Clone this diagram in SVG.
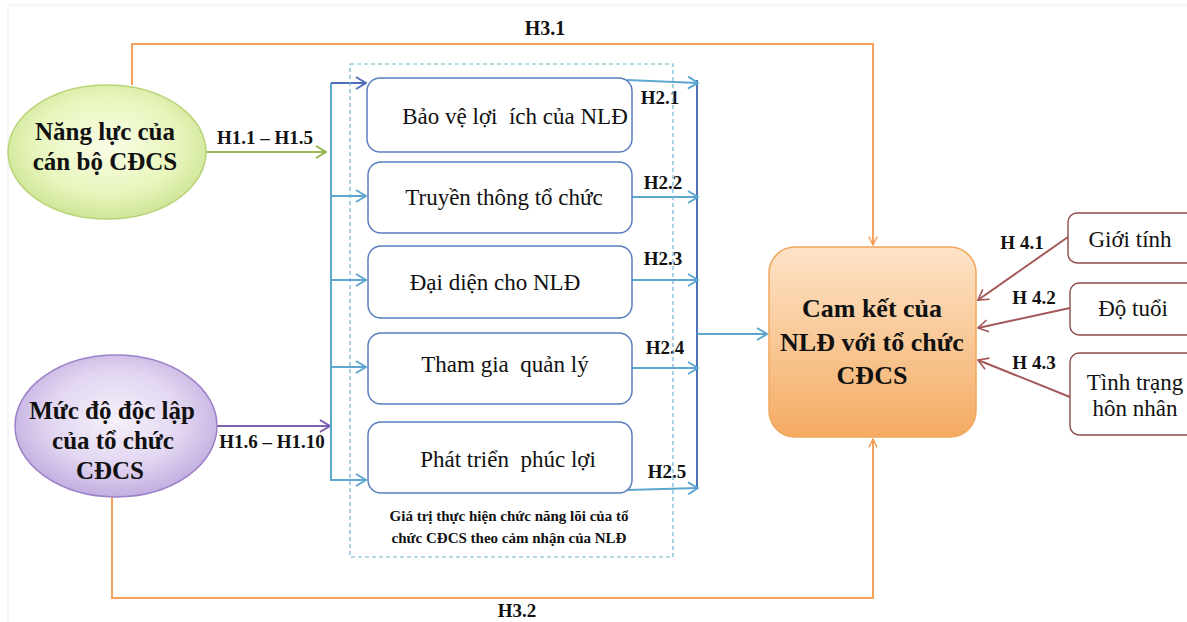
<svg xmlns="http://www.w3.org/2000/svg" width="1187" height="622" viewBox="0 0 1187 622">
<style>
.t{font-family:"Liberation Serif","Times New Roman",serif;fill:#111;text-anchor:middle}
.b{font-weight:bold}
.box{fill:#fff;stroke:#5b7fbf;stroke-width:1.5}
.rb{fill:#fff;stroke:#8e4a4a;stroke-width:1.4}
.c{fill:none;stroke-width:2}
</style>
<defs>
<radialGradient id="gG" cx="50%" cy="45%" r="55%">
<stop offset="0" stop-color="#f9fde6"/><stop offset="0.65" stop-color="#e8f6bd"/><stop offset="1" stop-color="#cfe597"/>
</radialGradient>
<radialGradient id="gP" cx="50%" cy="45%" r="55%">
<stop offset="0" stop-color="#f6f1fb"/><stop offset="0.6" stop-color="#e2d6f1"/><stop offset="1" stop-color="#c2aee0"/>
</radialGradient>
<linearGradient id="gO" x1="0" y1="0" x2="0" y2="1">
<stop offset="0" stop-color="#fde3c8"/><stop offset="0.5" stop-color="#f9c896"/><stop offset="1" stop-color="#f4aa62"/>
</linearGradient>
<marker id="mLB" viewBox="0 0 12 14" refX="11" refY="7" markerWidth="12" markerHeight="14" orient="auto" markerUnits="userSpaceOnUse"><path d="M1,1 L11,7 L1,13" fill="none" stroke="#5ca6cf" stroke-width="2"/></marker>
<marker id="mDB" viewBox="0 0 12 14" refX="11" refY="7" markerWidth="12" markerHeight="14" orient="auto" markerUnits="userSpaceOnUse"><path d="M1,1 L11,7 L1,13" fill="none" stroke="#4f6fb8" stroke-width="2"/></marker>
<marker id="mG" viewBox="0 0 12 14" refX="11" refY="7" markerWidth="12" markerHeight="14" orient="auto" markerUnits="userSpaceOnUse"><path d="M1,1 L11,7 L1,13" fill="none" stroke="#8fb34c" stroke-width="2"/></marker>
<marker id="mP" viewBox="0 0 12 14" refX="11" refY="7" markerWidth="12" markerHeight="14" orient="auto" markerUnits="userSpaceOnUse"><path d="M1,1 L11,7 L1,13" fill="none" stroke="#7a5bab" stroke-width="2"/></marker>
<marker id="mO" viewBox="0 0 12 12" refX="11" refY="6" markerWidth="10" markerHeight="10" orient="auto" markerUnits="userSpaceOnUse"><path d="M1,1 L11,6 L1,11" fill="none" stroke="#f29a4e" stroke-width="1.6"/></marker>
<marker id="mR" viewBox="0 0 12 14" refX="11" refY="7" markerWidth="12" markerHeight="14" orient="auto" markerUnits="userSpaceOnUse"><path d="M1,1 L11,7 L1,13" fill="none" stroke="#a35757" stroke-width="1.6"/></marker>
</defs>
<rect width="1187" height="622" fill="#fff"/>
<path d="M8,622 V5 H1187" fill="none" stroke="#ececec" stroke-width="1"/>

<g id="connectors">
<path class="c" d="M132,85 V44 H873 V245" stroke="#f5a35a" stroke-width="1.4" marker-end="url(#mO)"/>
<path class="c" d="M112,497 V598 H873 V439" stroke="#f5a35a" stroke-width="1.4" marker-end="url(#mO)"/>
<path class="c" d="M205,152 H326" stroke="#98bb55" stroke-width="2.5" marker-end="url(#mG)"/>
<path class="c" d="M217,426 H330" stroke="#7e5fb0" stroke-width="2.5" marker-end="url(#mP)"/>
<path class="c" d="M331,83 V480 H366" stroke="#5ca6cf" marker-end="url(#mLB)"/>
<path class="c" d="M331,83 H366" stroke="#4f6fb8" marker-end="url(#mDB)"/>
<path class="c" d="M331,196 H366" stroke="#5ca6cf" marker-end="url(#mLB)"/>
<path class="c" d="M331,280 H366" stroke="#5ca6cf" marker-end="url(#mLB)"/>
<path class="c" d="M331,367 H366" stroke="#5ca6cf" marker-end="url(#mLB)"/>
<path class="c" d="M697,80 V487" stroke="#4f72b8"/>
<path class="c" d="M627,80 L698,83" stroke="#5ca6cf" marker-end="url(#mLB)"/>
<path class="c" d="M632,197 H698" stroke="#5ca6cf" marker-end="url(#mLB)"/>
<path class="c" d="M632,280 H698" stroke="#5ca6cf" marker-end="url(#mLB)"/>
<path class="c" d="M632,368 H698" stroke="#5ca6cf" marker-end="url(#mLB)"/>
<path class="c" d="M627,490 L698,488" stroke="#5ca6cf" marker-end="url(#mLB)"/>
<path class="c" d="M697,334 H767" stroke="#5ca6cf" marker-end="url(#mLB)"/>
<path class="c" d="M1068,237 L978,300" stroke="#a35757" stroke-width="1.4" marker-end="url(#mR)"/>
<path class="c" d="M1070,308 L978,328" stroke="#a35757" stroke-width="1.4" marker-end="url(#mR)"/>
<path class="c" d="M1070,397 L978,360" stroke="#a35757" stroke-width="1.4" marker-end="url(#mR)"/>
</g>

<g id="edge-labels" class="t b">
<text x="545" y="35" font-size="20">H3.1</text>
<text x="517" y="617" font-size="19">H3.2</text>
<text x="265" y="144" font-size="19">H1.1 – H1.5</text>
<text x="272" y="448" font-size="19">H1.6 – H1.10</text>
<text x="660" y="104" font-size="19">H2.1</text>
<text x="663" y="189" font-size="19">H2.2</text>
<text x="663" y="265" font-size="19">H2.3</text>
<text x="665" y="354" font-size="19">H2.4</text>
<text x="667" y="478" font-size="19">H2.5</text>
<text x="1022" y="249" font-size="19">H 4.1</text>
<text x="1034" y="304" font-size="19">H 4.2</text>
<text x="1034" y="369" font-size="19">H 4.3</text>
</g>

<g id="group-frame">
<rect x="350" y="64" width="323" height="493" fill="none" stroke="#6fb3d6" stroke-width="1.2" stroke-dasharray="4,3"/>
<text class="t b" x="509" y="521" font-size="15">Giá trị thực hiện chức năng lõi của tổ</text>
<text class="t b" x="509" y="543" font-size="15">chức CĐCS theo cảm nhận của NLĐ</text>
</g>

<g id="n-nangluc">
<ellipse cx="107" cy="152" rx="99" ry="67" fill="url(#gG)" stroke="#b9d478" stroke-width="1.5"/>
<text class="t b" x="105" y="140" font-size="25">Năng lực của</text>
<text class="t b" x="105" y="170" font-size="25">cán bộ CĐCS</text>
</g>
<g id="n-mucdo">
<ellipse cx="116" cy="426" rx="101" ry="71" fill="url(#gP)" stroke="#9b80c8" stroke-width="1.5"/>
<text class="t b" x="112" y="419" font-size="25">Mức độ độc lập</text>
<text class="t b" x="113" y="449" font-size="25">của tổ chức</text>
<text class="t b" x="110" y="479" font-size="25">CĐCS</text>
</g>

<g id="n-baove">
<rect class="box" x="367" y="78" width="265" height="74" rx="13"/>
<text class="t" x="515" y="124" font-size="23" xml:space="preserve">Bảo vệ lợi  ích của NLĐ</text>
</g>
<g id="n-truyenthong">
<rect class="box" x="368" y="162" width="264" height="71" rx="13"/>
<text class="t" x="504" y="205" font-size="23">Truyền thông tổ chức</text>
</g>
<g id="n-daidien">
<rect class="box" x="368" y="246" width="264" height="72" rx="13"/>
<text class="t" x="495" y="290" font-size="23">Đại diện cho NLĐ</text>
</g>
<g id="n-thamgia">
<rect class="box" x="368" y="333" width="264" height="71" rx="13"/>
<text class="t" x="505" y="372" font-size="23" xml:space="preserve">Tham gia  quản lý</text>
</g>
<g id="n-phattrien">
<rect class="box" x="368" y="422" width="264" height="71" rx="13"/>
<text class="t" x="508" y="467" font-size="23" xml:space="preserve">Phát triển  phúc lợi</text>
</g>

<g id="n-camket">
<rect x="769" y="247" width="207" height="190" rx="26" fill="url(#gO)" stroke="#f0a85e" stroke-width="1.5"/>
<text class="t b" x="872" y="317" font-size="26">Cam kết của</text>
<text class="t b" x="872" y="351" font-size="26">NLĐ với tổ chức</text>
<text class="t b" x="872" y="384" font-size="26">CĐCS</text>
</g>

<g id="n-gioitinh">
<rect class="rb" x="1068" y="213" width="130" height="50" rx="9"/>
<text class="t" x="1130" y="247" font-size="23">Giới tính</text>
</g>
<g id="n-dotuoi">
<rect class="rb" x="1070" y="283" width="128" height="52" rx="9"/>
<text class="t" x="1133" y="316" font-size="23">Độ tuổi</text>
</g>
<g id="n-honnhan">
<rect class="rb" x="1070" y="353" width="128" height="82" rx="9"/>
<text class="t" x="1135" y="390" font-size="23">Tình trạng</text>
<text class="t" x="1135" y="416" font-size="23">hôn nhân</text>
</g>
</svg>
